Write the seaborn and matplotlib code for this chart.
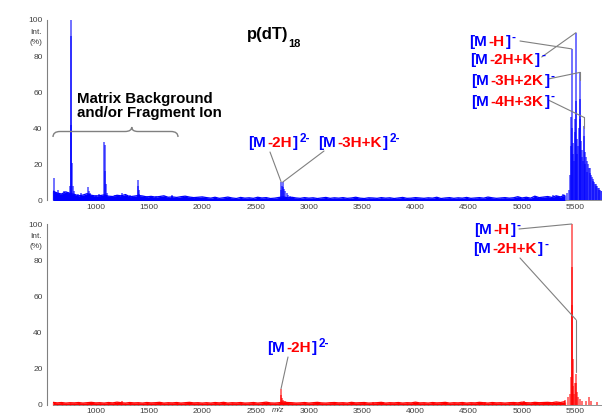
import numpy as np
import pandas as pd
import matplotlib
matplotlib.use("Agg")
import matplotlib.pyplot as plt
from matplotlib.ticker import MultipleLocator, FixedLocator
from matplotlib.transforms import IdentityTransform
from matplotlib.path import Path
from matplotlib.patches import PathPatch
import seaborn as sns

W, H, DPI = 602, 415, 100

# ---------------- data ----------------
MZ_RANGE = (600, 5750)
X_TICKS = [1000, 1500, 2000, 2500, 3000, 3500, 4000, 4500, 5000, 5500]
Y_TICKS = [0, 20, 40, 60, 80, 100]

# baseline noise, sampled every 40 m/z from 600 to 5400
NOISE_START, NOISE_STEP = 600, 40
top_noise = [
    5.2, 4.1, 3.6, 4.8, 3.9,
    3.4, 2.6, 3.0, 3.8, 2.9, 2.5,
    2.7, 3.1, 2.4, 2.2, 2.9, 2.6, 3.3, 2.1, 2.4, 2.8,
    2.5, 2.0, 2.3, 1.9, 2.2, 2.6, 1.8, 2.0, 1.7, 2.1, 2.4, 1.9, 1.6, 1.8, 2.0,
    1.6, 1.3, 1.8, 1.2, 1.5, 1.9, 1.4, 1.1, 1.7, 1.3,
    1.5, 1.2, 1.8, 1.4, 1.6, 1.1, 1.3, 1.7, 2.0, 1.5,
    1.8, 1.4, 1.2, 1.6, 1.3, 1.5, 1.1, 1.4, 1.7, 1.2,
    1.5, 1.3, 1.6, 1.2, 1.4, 1.8, 1.3, 1.1, 1.5, 1.4,
    1.2, 1.6, 1.3, 1.5, 1.1, 1.4, 1.7, 1.2, 1.3, 1.6,
    1.4, 1.2, 1.5, 1.3, 1.8, 1.1, 1.4, 1.6, 1.2, 1.5,
    1.3, 1.7, 1.2, 1.4, 1.6, 1.3, 1.9, 1.5, 1.2, 1.4,
    1.6, 1.3, 1.5, 2.1, 1.4, 1.8, 1.3, 2.4, 1.6, 1.9,
    2.2, 1.7, 2.6, 2.0, 2.9,
]
bottom_noise = [
    1.2, 0.9, 1.1, 0.8, 1.0,
    0.9, 1.1, 0.8, 1.0, 1.2, 0.9,
    1.0, 0.8, 1.1, 0.9, 1.3, 1.0, 0.8, 1.1, 0.9, 1.0,
    0.8, 1.1, 0.9, 1.0, 1.2, 0.8, 1.0, 0.9, 1.1, 0.8, 1.0, 1.2, 0.9, 1.0, 0.8,
    1.0, 0.8, 1.1, 0.9, 1.2, 0.8, 1.0, 0.9, 1.1, 0.8,
    0.9, 1.1, 0.8, 1.0, 1.3, 0.9, 0.8, 1.0, 1.4, 1.1,
    1.0, 0.8, 0.9, 1.1, 0.8, 1.0, 1.2, 0.9, 0.8, 1.0,
    1.1, 0.9, 1.0, 0.8, 1.2, 0.9, 1.0, 1.1, 0.8, 0.9,
    1.0, 1.2, 0.8, 1.0, 0.9, 1.1, 0.8, 1.0, 0.9, 1.3,
    0.9, 1.0, 0.8, 1.1, 0.9, 1.0, 1.2, 0.8, 1.0, 0.9,
    1.1, 0.8, 1.0, 0.9, 1.2, 1.0, 0.8, 1.1, 0.9, 1.0,
    0.8, 1.0, 1.1, 0.9, 1.3, 1.0, 0.9, 1.2, 1.0, 1.1,
    1.2, 1.0, 1.4, 1.1, 1.6,
]

# resolved peaks (m/z, relative intensity %)
top_peak_mz = [
    605, 610, 625, 650, 680, 700, 720, 745, 757, 768, 770, 773, 777, 785, 795,
    830, 865, 905, 930, 935, 945, 1000, 1030, 1083, 1086, 1090, 1095, 1105,
    1180, 1245, 1250, 1320, 1398, 1401, 1405, 1410, 1480, 1570, 1715, 1720,
    2735, 2740, 2746, 2755, 2762, 2770, 2780, 2792, 2805, 2820, 2840,
    5290, 5330, 5380, 5420,
    5440, 5450, 5458, 5463, 5466, 5470, 5475, 5481, 5487, 5494, 5500, 5506,
    5509, 5514, 5520, 5527, 5533, 5540, 5545, 5548, 5553, 5559, 5565, 5571,
    5577, 5583, 5587, 5593, 5600, 5607, 5613, 5620, 5627, 5634, 5641, 5648,
    5655, 5662, 5669, 5676, 5683, 5690, 5697, 5704, 5711, 5718, 5725, 5732,
    5739, 5746,
]
top_peak_int = [
    12.5, 5.5, 4.5, 6.0, 3.5, 5.0, 3.0, 4.5, 8.0, 100.0, 91.0, 42.0, 21.0, 8.0, 5.0,
    3.5, 4.0, 3.0, 7.5, 5.0, 4.0, 3.0, 3.5, 32.5, 31.0, 16.5, 9.0, 4.0,
    3.0, 4.2, 3.0, 3.0, 11.4, 8.0, 6.0, 3.5, 2.5, 2.5, 3.0, 2.5,
    6.0, 10.3, 8.0, 10.2, 7.5, 6.5, 5.0, 4.0, 3.2, 2.6, 2.2,
    3.0, 2.5, 3.5, 4.0,
    6.0, 14.0, 30.0, 46.0, 84.0, 40.0, 26.0, 32.0, 22.0, 38.0, 45.0, 93.0,
    55.0, 34.0, 26.0, 30.0, 40.0, 45.0, 71.0, 56.0, 33.0, 24.0, 28.0, 22.0,
    36.0, 41.0, 27.0, 20.0, 24.0, 16.0, 22.0, 20.0, 18.0, 18.0, 15.0, 14.0,
    13.0, 12.0, 11.0, 10.0, 9.0, 9.0, 8.0, 8.0, 7.0, 7.0, 6.0, 6.0,
    5.0, 5.0,
]
bottom_peak_mz = [
    1250, 1320, 1880, 2739, 2742, 2750, 2760, 2775, 3600, 3700, 4650, 5020,
    5130, 5400, 5430, 5446, 5455, 5466, 5467, 5470, 5476, 5482, 5490, 5500,
    5506, 5509, 5515, 5525, 5540, 5560, 5600, 5630, 5645, 5700,
]
bottom_peak_int = [
    1.8, 1.5, 1.5, 8.7, 5.0, 3.5, 2.5, 1.8, 1.5, 1.3, 1.4, 1.8,
    1.5, 2.5, 4.0, 6.0, 15.0, 100.0, 76.0, 55.0, 25.0, 10.0, 6.0, 12.0,
    17.0, 12.0, 7.0, 4.0, 3.0, 2.0, 1.8, 4.4, 2.0, 1.5,
]

BLUE = "#0000ff"
RED = "#ff0000"
GREY = "#808080"
TICK_TEXT = "#404040"

# ---------------- style ----------------
sns.set_theme(style="white")
plt.rcParams["font.family"] = ["Liberation Sans", "DejaVu Sans"]

fig = plt.figure(figsize=(W / DPI, H / DPI), dpi=DPI)
fig.patch.set_facecolor("white")

# axes placed in pixel units
def px_axes(left, top, right, bottom):
    return fig.add_axes([left / W, (H - bottom) / H, (right - left) / W, (bottom - top) / H])

ax_top = px_axes(53, 20, 602, 200.5)
ax_bot = px_axes(53, 224, 602, 404.5)


def draw_spectrum(ax, noise, peak_mz, peak_int, color):
    grid = NOISE_START + NOISE_STEP * np.arange(len(noise))
    noise_df = pd.DataFrame({"mz": grid, "intensity": noise})
    ax.fill_between(noise_df.mz, 0, noise_df.intensity, color=color, lw=0,
                    zorder=3, clip_on=False)
    sns.lineplot(data=noise_df, x="mz", y="intensity", ax=ax, color=color,
                 lw=0.9, estimator=None, zorder=3)
    peaks = pd.DataFrame({"mz": peak_mz, "intensity": peak_int})
    ax.vlines(peaks.mz, 0, peaks.intensity, color=color, lw=1.3, alpha=0.6,
              zorder=3, clip_on=False)
    ax.vlines(grid, 0, noise, color=color, lw=1.0, alpha=0.55, zorder=3,
              clip_on=False)


def style_axes(ax):
    ax.set_xlim(*MZ_RANGE)
    ax.set_ylim(0, 100)
    ax.set_xlabel("")
    ax.set_ylabel("")
    ax.xaxis.set_major_locator(FixedLocator(X_TICKS))
    ax.xaxis.set_minor_locator(MultipleLocator(100))
    ax.yaxis.set_major_locator(FixedLocator(Y_TICKS))
    ax.yaxis.set_minor_locator(MultipleLocator(5))
    ax.tick_params(which="major", direction="out", length=2.2, width=0.6,
                   color=GREY, labelsize=6, labelcolor=TICK_TEXT, pad=1)
    ax.tick_params(axis="x", which="major", pad=0.3)
    ax.tick_params(which="minor", direction="out", length=1.2, width=0.5,
                   color=GREY)
    for s in ("top", "right"):
        ax.spines[s].set_visible(False)
    ax.spines["left"].set_position(("outward", 4.3))
    ax.spines["left"].set_color(GREY)
    ax.spines["left"].set_linewidth(0.8)
    ax.spines["bottom"].set_color(GREY)
    ax.spines["bottom"].set_linewidth(0.6)
    ax.set_facecolor("none")


draw_spectrum(ax_top, top_noise, top_peak_mz, top_peak_int, BLUE)
draw_spectrum(ax_bot, bottom_noise, bottom_peak_mz, bottom_peak_int, RED)
style_axes(ax_top)
style_axes(ax_bot)

ID = IdentityTransform()
renderer = fig.canvas.get_renderer()


def ftext(x_px, y_px, s, **kw):
    return fig.text(x_px, H - y_px, s, transform=ID, **kw)


def rich_label(x_px, base_px, parts, size=11, sup_size=8.5, raise_px=5.5):
    x = x_px
    for text, color, sup in parts:
        fs = sup_size if sup else size
        y = base_px - (raise_px if sup else 0)
        t = ftext(x, y, text, color=color, fontsize=fs, fontweight="bold",
                  va="baseline", ha="left")
        x += t.get_window_extent(renderer).width + 1.3


def ion(core, charge):
    """Split an ion label like 'M-2H+K' into its coloured pieces."""
    return [("[M", BLUE, False), (core, RED, False), ("]", BLUE, False),
            (charge, BLUE, True)]


# ion labels: (x, baseline) in pixels
rich_label(248, 147, ion("-2H", "2-"))
rich_label(318, 147, ion("-3H+K", "2-"))
rich_label(469, 46, ion("-H", "-"))
rich_label(470, 64, ion("-2H+K", "-"))
rich_label(471, 85, ion("-3H+2K", "-"))
rich_label(471, 105.7, ion("-4H+3K", "-"))
rich_label(267, 352, ion("-2H", "2-"))
rich_label(474, 234, ion("-H", "-"))
rich_label(473, 253, ion("-2H+K", "-"))


def leader(ax, start_px, peak, drop=None):
    ax.annotate("", xy=peak, xycoords="data",
                xytext=(start_px[0], H - start_px[1]), textcoords="figure pixels",
                arrowprops=dict(arrowstyle="-", color=GREY, lw=0.8,
                                shrinkA=0, shrinkB=0), zorder=4)
    if drop is not None:
        ax.plot([peak[0], peak[0]], [peak[1], drop], color=GREY, lw=0.8,
                zorder=4, clip_on=False)


leader(ax_top, (270, 152), (2740, 10.3))
leader(ax_top, (324, 151), (2755, 10.2))
leader(ax_top, (520, 41), (5466, 84))
leader(ax_top, (541.7, 57), (5506, 93))
leader(ax_top, (548.3, 79), (5545, 71), drop=67)
leader(ax_top, (548.3, 100), (5583, 46), drop=40)
leader(ax_bot, (288, 357), (2739, 8.7))
leader(ax_bot, (519, 229), (5466, 100))
leader(ax_bot, (520, 258), (5506, 47), drop=18)

# title
ftext(246.7, 39.3, "p(dT)", fontsize=12, fontweight="bold", color="black",
      va="baseline", ha="left")
ftext(288.5, 46.7, "18", fontsize=8, fontweight="bold", color="black",
      va="baseline", ha="left")

# matrix region note with brace
ftext(77, 103.3, "Matrix Background", fontsize=10.8, fontweight="bold",
      color="black", va="baseline", ha="left")
ftext(77, 117, "and/or Fragment Ion", fontsize=10.8, fontweight="bold",
      color="black", va="baseline", ha="left")

def P(x, y):
    return (x, H - y)

brace_pts = [P(53, 137), P(53, 131.5), P(60, 131.5), P(125, 131.5),
             P(131.7, 131.5), P(131.7, 127), P(131.7, 131.5), P(138, 131.5),
             P(171, 131.5), P(178, 131.5), P(178, 137)]
brace_codes = [Path.MOVETO, Path.CURVE3, Path.CURVE3, Path.LINETO,
               Path.CURVE3, Path.CURVE3, Path.CURVE3, Path.CURVE3,
               Path.LINETO, Path.CURVE3, Path.CURVE3]
fig.add_artist(PathPatch(Path(brace_pts, brace_codes), transform=ID,
                         fill=False, ec=GREY, lw=1.0))

# axis captions
for y_base in (32, 236):
    ftext(30, y_base, "Int.", fontsize=6, color=TICK_TEXT, va="center", ha="left")
    ftext(30, y_base + 10, "(%)", fontsize=6, color=TICK_TEXT, va="center", ha="left")
ftext(278, 410.5, "m/z", fontsize=5.5, style="italic", color=TICK_TEXT,
      va="center", ha="center")

fig.savefig("out.png", dpi=DPI, facecolor="white")
